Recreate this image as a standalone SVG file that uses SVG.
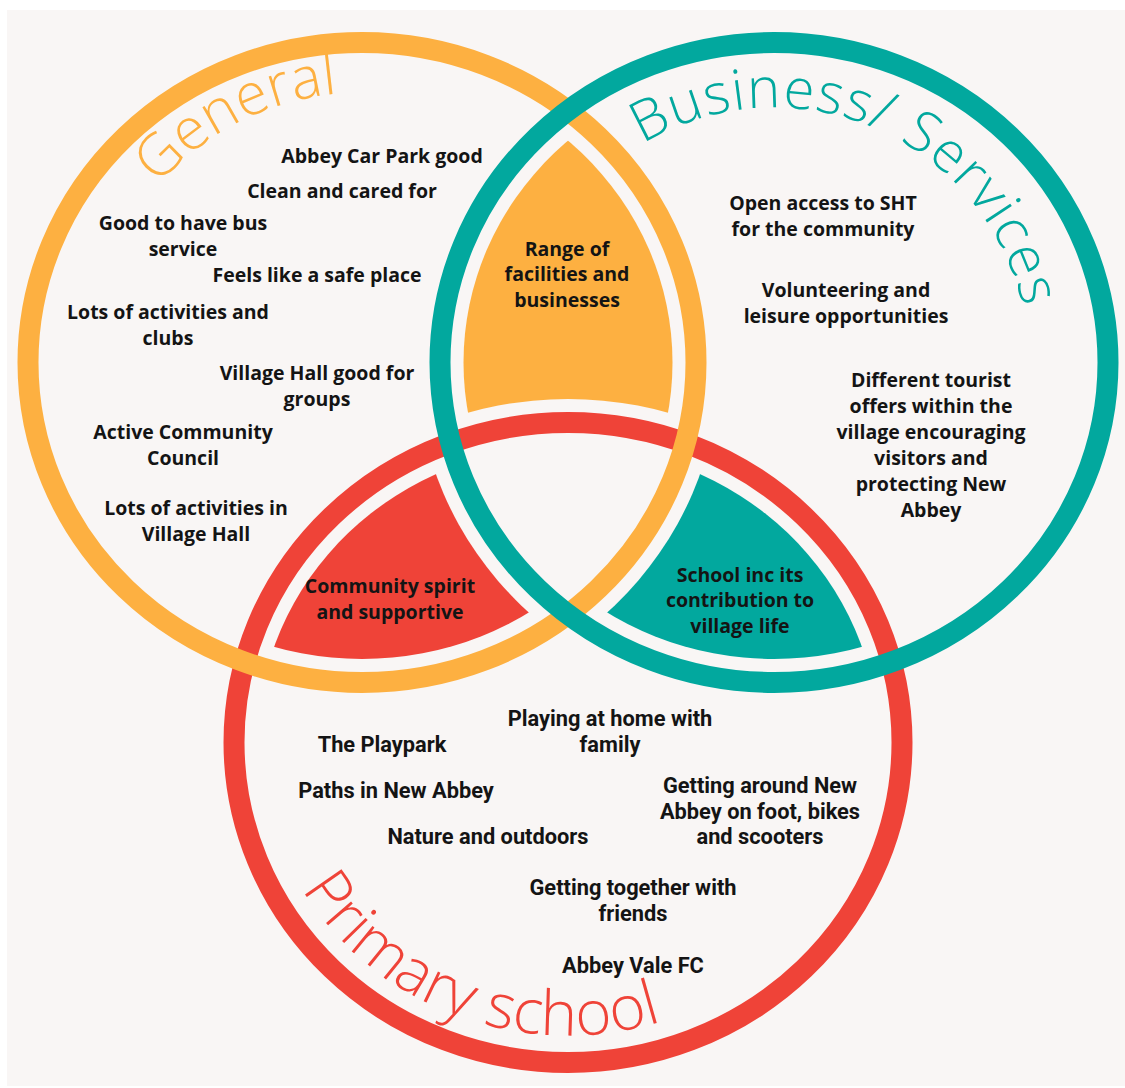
<svg xmlns="http://www.w3.org/2000/svg" xmlns:xlink="http://www.w3.org/1999/xlink" width="1125" height="1088" viewBox="0 0 1125 1088">
<style>
.t{font-family:'Open Sans','Liberation Sans',sans-serif;font-weight:700;font-size:19.5px;fill:#141414;text-anchor:middle}
.p{font-family:Roboto,'Liberation Sans',sans-serif;font-weight:700;font-size:21.8px;fill:#141414;text-anchor:middle}
.h{font-family:'Open Sans','Liberation Sans',sans-serif;font-weight:300}
.ring{fill:none;stroke-width:21}
</style>
<defs>
<clipPath id="cO"><ellipse cx="362" cy="362.5" rx="310.5" ry="296.5"/></clipPath>
<clipPath id="cT"><ellipse cx="774" cy="362.5" rx="310.5" ry="296.5"/></clipPath>
<clipPath id="cR"><ellipse cx="568" cy="742.5" rx="310.5" ry="296.5"/></clipPath>
<mask id="mO"><rect width="1125" height="1088" fill="#fff"/><ellipse cx="362" cy="362.5" rx="357.5" ry="343.5" fill="#000"/></mask>
<mask id="mT"><rect width="1125" height="1088" fill="#fff"/><ellipse cx="774" cy="362.5" rx="357.5" ry="343.5" fill="#000"/></mask>
<mask id="mR"><rect width="1125" height="1088" fill="#fff"/><ellipse cx="568" cy="742.5" rx="357.5" ry="343.5" fill="#000"/></mask>
<path id="pG" d="M158.2,185.4 A270,270 0 0 1 497,128.7"/>
<path id="pB" d="M642.7,143.9 A255,255 0 0 1 1028,340.3"/>
<path id="pP" d="M302.1,889 A307,293 0 0 0 744.1,982.5"/>
</defs>
<rect x="0" y="0" width="1125" height="1088" fill="#ffffff"/>
<rect x="7" y="10" width="1118" height="1076" fill="#f9f6f5"/>

<g id="fills">
<g id="fill-general-business" clip-path="url(#cO)"><ellipse cx="774" cy="362.5" rx="310.5" ry="296.5" fill="#fdb041" mask="url(#mR)"/></g>
<g id="fill-general-primary" clip-path="url(#cO)"><ellipse cx="568" cy="742.5" rx="310.5" ry="296.5" fill="#ef4338" mask="url(#mT)"/></g>
<g id="fill-business-primary" clip-path="url(#cT)"><ellipse cx="568" cy="742.5" rx="310.5" ry="296.5" fill="#02a89e" mask="url(#mO)"/></g>
</g>

<g id="rings">
<ellipse id="ring-primary" class="ring" cx="568" cy="742.5" rx="334" ry="320" stroke="#ef4338"/>
<ellipse id="ring-general" class="ring" cx="362" cy="362.5" rx="334" ry="320" stroke="#fdb041"/>
<ellipse id="ring-business" class="ring" cx="774" cy="362.5" rx="334" ry="320" stroke="#02a89e"/>
</g>

<g id="general">
<text class="h" font-size="58" fill="#fdb041"><textPath xlink:href="#pG" href="#pG">General</textPath></text>
<text class="t" x="382" y="163">Abbey Car Park good</text>
<text class="t" x="342" y="198">Clean and cared for</text>
<text class="t" x="183" y="230">Good to have bus</text>
<text class="t" x="183" y="256">service</text>
<text class="t" x="317" y="282">Feels like a safe place</text>
<text class="t" x="168" y="319">Lots of activities and</text>
<text class="t" x="168" y="345">clubs</text>
<text class="t" x="317" y="380">Village Hall good for</text>
<text class="t" x="317" y="406">groups</text>
<text class="t" x="183" y="439">Active Community</text>
<text class="t" x="183" y="465">Council</text>
<text class="t" x="196" y="515">Lots of activities in</text>
<text class="t" x="196" y="541">Village Hall</text>
</g>

<g id="business">
<text class="h" font-size="56" fill="#02a89e" letter-spacing="1.2"><textPath xlink:href="#pB" href="#pB">Business/ Services</textPath></text>
<text class="t" x="823" y="210">Open access to SHT</text>
<text class="t" x="823" y="236">for the community</text>
<text class="t" x="846" y="297">Volunteering and</text>
<text class="t" x="846" y="323">leisure opportunities</text>
<text class="t" x="931" y="387">Different tourist</text>
<text class="t" x="931" y="413">offers within the</text>
<text class="t" x="931" y="439">village encouraging</text>
<text class="t" x="931" y="465">visitors and</text>
<text class="t" x="931" y="491">protecting New</text>
<text class="t" x="931" y="517">Abbey</text>
</g>

<g id="overlap-general-business">
<text class="t" x="567" y="256">Range of</text>
<text class="t" x="567" y="281">facilities and</text>
<text class="t" x="567" y="307">businesses</text>
</g>
<g id="overlap-general-primary">
<text class="t" x="390" y="593">Community spirit</text>
<text class="t" x="390" y="619">and supportive</text>
</g>
<g id="overlap-business-primary">
<text class="t" x="740" y="582">School inc its</text>
<text class="t" x="740" y="607">contribution to</text>
<text class="t" x="740" y="633">village life</text>
</g>

<g id="primary">
<text class="h" font-size="62" fill="#ef4338"><textPath xlink:href="#pP" href="#pP">Primary school</textPath></text>
<text class="p" x="382" y="752">The Playpark</text>
<text class="p" x="610" y="726">Playing at home with</text>
<text class="p" x="610" y="752">family</text>
<text class="p" x="396" y="798">Paths in New Abbey</text>
<text class="p" x="760" y="793">Getting around New</text>
<text class="p" x="760" y="819">Abbey on foot, bikes</text>
<text class="p" x="760" y="844">and scooters</text>
<text class="p" x="488" y="844">Nature and outdoors</text>
<text class="p" x="633" y="895">Getting together with</text>
<text class="p" x="633" y="921">friends</text>
<text class="p" x="633" y="973">Abbey Vale FC</text>
</g>
</svg>
